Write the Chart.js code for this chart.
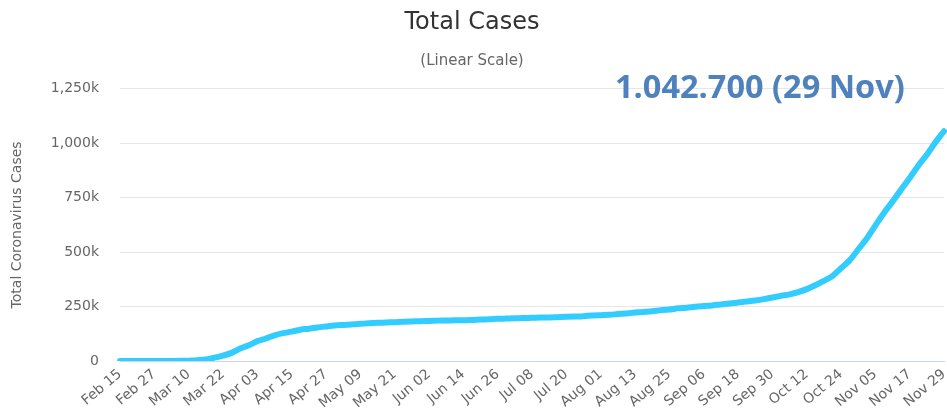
<!DOCTYPE html>
<html>
<head>
<meta charset="utf-8">
<script src="https://cdn.jsdelivr.net/npm/chart.js@4"></script>
<style>
  html, body { margin: 0; padding: 0; background: #ffffff; }
  #wrap { width: 947px; height: 416px; }
</style>
</head>
<body>
<div id="wrap"><canvas id="c" width="947" height="416"></canvas></div>
<script>
// Categories (every 3 days, Feb 15 – Nov 29)
const dates = [
  'Feb 15','Feb 18','Feb 21','Feb 24','Feb 27','Mar 01','Mar 04','Mar 07','Mar 10','Mar 13','Mar 16','Mar 19',
  'Mar 22','Mar 25','Mar 28','Mar 31','Apr 03','Apr 06','Apr 09','Apr 12','Apr 15','Apr 18','Apr 21','Apr 24',
  'Apr 27','Apr 30','May 03','May 06','May 09','May 12','May 15','May 18','May 21','May 24','May 27','May 30',
  'Jun 02','Jun 05','Jun 08','Jun 11','Jun 14','Jun 17','Jun 20','Jun 23','Jun 26','Jun 29','Jul 02','Jul 05',
  'Jul 08','Jul 11','Jul 14','Jul 17','Jul 20','Jul 23','Jul 26','Jul 29','Aug 01','Aug 04','Aug 07','Aug 10',
  'Aug 13','Aug 16','Aug 19','Aug 22','Aug 25','Aug 28','Aug 31','Sep 03','Sep 06','Sep 09','Sep 12','Sep 15',
  'Sep 18','Sep 21','Sep 24','Sep 27','Sep 30','Oct 03','Oct 06','Oct 09','Oct 12','Oct 15','Oct 18','Oct 21',
  'Oct 24','Oct 27','Oct 30','Nov 02','Nov 05','Nov 08','Nov 11','Nov 14','Nov 17','Nov 20','Nov 23','Nov 26',
  'Nov 29'
];

// Total coronavirus cases
const totalCases = [
  16, 16, 16, 16, 26, 130, 262, 795, 1565, 3675, 7272, 15320,
  24873, 37323, 57695, 71808, 91159, 103374, 118181, 127854, 134753, 143724, 148291, 154175,
  158758, 163009, 165664, 168162, 170588, 173171, 175233, 176551, 178473, 179710, 181288, 183019,
  184091, 185416, 186022, 186839, 187423, 188252, 190359, 191449, 193499, 194693, 195893, 197198,
  198178, 199375, 200180, 201450, 202735, 204183, 205969, 208546, 210402, 212022, 215336, 218508,
  222281, 225404, 228621, 233575, 236429, 241771, 244855, 248997, 252298, 255366, 259735, 263663,
  268269, 273114, 278070, 284140, 291722, 299237, 306086, 316000, 330000, 348000, 368000, 390000,
  426000, 462000, 512000, 562000, 622000, 680000, 732000, 787000, 840000, 897000, 947000, 1004000,
  1055000
];

// Tick labels shown on the x axis
const tickLabels = [
  'Feb 15','Feb 27','Mar 10','Mar 22','Apr 03','Apr 15','Apr 27','May 09','May 21','Jun 02','Jun 14','Jun 26',
  'Jul 08','Jul 20','Aug 01','Aug 13','Aug 25','Sep 06','Sep 18','Sep 30','Oct 12','Oct 24','Nov 05','Nov 17','Nov 29'
];

// Y tick values
const yTicks = [0, 250000, 500000, 750000, 1000000, 1250000];

const annotationText = '1.042.700 (29 Nov)';

const annotationPlugin = {
  id: 'bigLabel',
  afterDraw(chart) {
    const ctx = chart.ctx;
    ctx.save();
    ctx.font = 'bold 32.5px "Open Sans"';
    ctx.fillStyle = '#4f81bd';
    ctx.textAlign = 'left';
    ctx.textBaseline = 'alphabetic';
    ctx.fillText(annotationText, 615, 98);
    ctx.restore();
  }
};

new Chart(document.getElementById('c'), {
  type: 'line',
  data: {
    labels: dates,
    datasets: [{
      label: 'Total Cases',
      data: totalCases,
      borderColor: '#33ccff',
      backgroundColor: '#33ccff',
      borderWidth: 6,
      pointRadius: 0,
      pointHoverRadius: 0,
      fill: false,
      cubicInterpolationMode: 'monotone',
      borderCapStyle: 'round',
      borderJoinStyle: 'round'
    }]
  },
  options: {
    responsive: false,
    animation: false,
    devicePixelRatio: 1,
    layout: { padding: { left: 0, right: 3, top: 0, bottom: 0 } },
    plugins: {
      legend: { display: false },
      tooltip: { enabled: false },
      title: {
        display: true,
        text: 'Total Cases',
        color: '#333333',
        font: { family: 'DejaVu Sans', size: 24, weight: 'normal' },
        padding: { top: 8, bottom: 9 }
      },
      subtitle: {
        display: true,
        text: '(Linear Scale)',
        color: '#666666',
        font: { family: 'DejaVu Sans', size: 15, weight: 'normal' },
        padding: { top: 6, bottom: 19 }
      }
    },
    scales: {
      x: {
        type: 'category',
        grid: { display: false },
        border: { display: true, color: '#ccd6eb', width: 1 },
        ticks: {
          autoSkip: false,
          maxRotation: 40,
          minRotation: 40,
          padding: -3,
          color: '#666666',
          font: { family: 'DejaVu Sans', size: 14 },
          callback: function (value, index) {
            const lab = dates[index];
            return tickLabels.includes(lab) ? lab : '';
          }
        },
        afterFit: function (scale) {
          scale.height = 55;
          scale.paddingLeft = 0;
          scale.paddingRight = 0;
        }
      },
      y: {
        min: 0,
        max: 1250000,
        afterBuildTicks: function (scale) {
          scale.ticks = yTicks.map(v => ({ value: v }));
        },
        grid: { color: '#e6e6e6', drawTicks: false, lineWidth: 1 },
        border: { display: false },
        ticks: {
          padding: 21,
          color: '#666666',
          font: { family: 'DejaVu Sans', size: 14 },
          callback: function (v) {
            return v === 0 ? '0' : (v / 1000).toLocaleString('en-US') + 'k';
          }
        },
        title: {
          display: true,
          text: 'Total Coronavirus Cases',
          color: '#666666',
          font: { family: 'DejaVu Sans', size: 14, weight: 'normal' },
          padding: { top: 9, bottom: 0 }
        },
        afterFit: function (scale) { scale.width = 120; }
      }
    }
  },
  plugins: [annotationPlugin]
});
</script>
</body>
</html>
